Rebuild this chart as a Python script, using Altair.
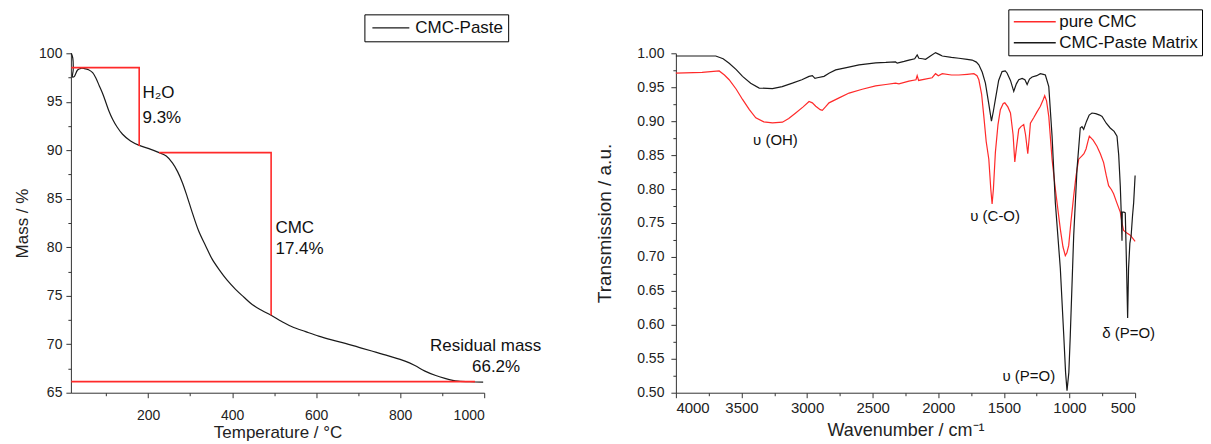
import altair as alt
import pandas as pd

FONT = "Liberation Sans"
RED = "#ff2a2a"
BLACK = "#1a1a1a"

# ---------------- TGA (left) ----------------
tga_temp = [17, 20.5, 21.5, 20, 24, 31.9, 40, 48, 58, 67.8, 76, 83.7, 92, 99.5, 107, 115.3, 126, 139,
            158, 178.6, 200, 226, 243, 257.7, 270, 281.5, 293, 305, 320, 336.9, 352, 368.5, 388, 408,
            428, 447.6, 470, 492.7, 518, 542.6, 575, 605.9, 637, 669.2, 700, 732.3, 772, 811.6, 835,
            859, 883, 906.5, 925, 938, 965, 997.5]
tga_mass = [100.0, 99.5, 98.3, 97.55, 97.6, 98.28, 98.45, 98.42, 98.3, 98.0, 97.4, 96.63, 95.8, 94.9,
            94.0, 93.2, 92.4, 91.65, 90.95, 90.5, 90.2, 89.76, 89.4, 88.7, 87.8, 86.66, 85.2, 83.57,
            81.7, 80.13, 78.8, 77.72, 76.6, 75.66, 74.85, 74.1, 73.5, 72.98, 72.35, 71.8, 71.3, 70.84,
            70.45, 70.09, 69.7, 69.3, 68.8, 68.26, 67.8, 67.23, 66.8, 66.48, 66.28, 66.2, 66.13, 66.1]

step_seg = ["h2o", "h2o", "h2o", "cmc", "cmc", "cmc", "res", "res"]
step_temp = [17, 178.6, 178.6, 226, 492.7, 492.7, 17, 978]
step_mass = [98.52, 98.52, 90.45, 89.76, 89.76, 72.98, 66.14, 66.14]

tga_lab_text = ["H₂O", "9.3%", "CMC", "17.4%", "Residual mass", "66.2%"]
tga_lab_x = [186.5, 186.5, 503, 503, 871, 971]
tga_lab_y = [95.95, 93.37, 82.02, 79.85, 69.81, 67.6]

tga_xmajor = [200, 400, 600, 800, 1000]
tga_xminor = [100, 300, 500, 700, 900]
tga_ymajor = [65, 70, 75, 80, 85, 90, 95, 100]
tga_yminor = [67.5, 72.5, 77.5, 82.5, 87.5, 92.5, 97.5]

# ---------------- FTIR (right) ----------------
paste_wn = [4000, 3696, 3640, 3594, 3540, 3492, 3430, 3365, 3264, 3190, 3112, 3040, 2985, 2960, 2940,
            2922, 2871, 2830, 2782, 2700, 2604, 2477, 2400, 2326, 2313, 2260, 2224, 2180, 2161, 2148,
            2120, 2097, 2060, 2021, 1990, 1970, 1900, 1843, 1780, 1742, 1710, 1691, 1665, 1641, 1615,
            1595, 1580, 1565, 1540, 1514, 1490, 1476, 1450, 1425, 1405, 1387, 1361, 1340, 1323, 1305,
            1285, 1250, 1222, 1200, 1184, 1158, 1133, 1108, 1070, 1044, 1030, 1019, 1005, 994, 968,
            943, 918, 905, 892, 870, 850, 829, 800, 770, 752, 720, 690, 660, 638, 625, 613, 605, 600,
            598, 585, 575, 565, 557, 550, 540, 530, 520, 511, 500]
paste_t = [0.996, 0.996, 0.992, 0.9854, 0.976, 0.966, 0.956, 0.9488, 0.948, 0.951, 0.956, 0.961, 0.966,
           0.967, 0.963, 0.964, 0.966, 0.971, 0.9756, 0.979, 0.983, 0.986, 0.9865, 0.9873, 0.9854,
           0.988, 0.990, 0.992, 0.9976, 0.9927, 0.992, 0.9912, 0.996, 1.001, 0.998, 0.996, 0.994,
           0.9927, 0.991, 0.990, 0.987, 0.983, 0.972, 0.956, 0.925, 0.900, 0.915, 0.932, 0.960, 0.973,
           0.974, 0.971, 0.960, 0.944, 0.955, 0.961, 0.963, 0.961, 0.954, 0.962, 0.965, 0.967, 0.970,
           0.969, 0.968, 0.951, 0.878, 0.780, 0.683, 0.585, 0.530, 0.503, 0.530, 0.585, 0.732, 0.829,
           0.890, 0.892, 0.888, 0.900, 0.909, 0.912, 0.911, 0.909, 0.907, 0.897, 0.890, 0.885, 0.878,
           0.850, 0.805, 0.760, 0.724, 0.766, 0.766, 0.765, 0.683, 0.610, 0.683, 0.720, 0.732, 0.760,
           0.780, 0.820]

cmc_wn = [4000, 3800, 3670, 3630, 3594, 3540, 3492, 3440, 3391, 3330, 3264, 3188, 3140, 3087, 3030,
          2985, 2960, 2934, 2900, 2884, 2860, 2833, 2760, 2680, 2580, 2478, 2400, 2326, 2300, 2224,
          2170, 2161, 2150, 2100, 2047, 2021, 2000, 1970, 1900, 1843, 1780, 1729, 1705, 1691, 1670,
          1653, 1635, 1615, 1600, 1590, 1580, 1565, 1545, 1527, 1505, 1493, 1470, 1450, 1430, 1417,
          1405, 1387, 1370, 1349, 1335, 1318, 1305, 1298, 1273, 1250, 1222, 1200, 1189, 1175, 1158,
          1133, 1108, 1070, 1050, 1032, 1020, 1006, 990, 968, 950, 930, 905, 890, 874, 860, 849, 820,
          791, 765, 740, 720, 702, 680, 664, 640, 613, 600, 588, 560, 537, 500]
cmc_t = [0.9707, 0.972, 0.974, 0.968, 0.961, 0.947, 0.932, 0.917, 0.905, 0.899, 0.8975, 0.8985, 0.904,
         0.912, 0.921, 0.929, 0.927, 0.922, 0.917, 0.916, 0.921, 0.927, 0.934, 0.9414, 0.947, 0.952,
         0.954, 0.956, 0.955, 0.959, 0.961, 0.967, 0.960, 0.962, 0.964, 0.970, 0.967, 0.970, 0.968,
         0.968, 0.969, 0.970, 0.967, 0.961, 0.940, 0.907, 0.870, 0.844, 0.800, 0.778, 0.800, 0.854,
         0.895, 0.917, 0.926, 0.927, 0.921, 0.912, 0.880, 0.840, 0.860, 0.888, 0.892, 0.895, 0.880,
         0.852, 0.880, 0.897, 0.905, 0.913, 0.922, 0.932, 0.9375, 0.930, 0.907, 0.844, 0.800, 0.741,
         0.715, 0.702, 0.706, 0.717, 0.750, 0.790, 0.820, 0.844, 0.849, 0.852, 0.859, 0.870, 0.878,
         0.872, 0.863, 0.852, 0.839, 0.820, 0.805, 0.799, 0.793, 0.780, 0.766, 0.750, 0.739, 0.735,
         0.732, 0.723]

ftir_series = ["pure CMC", "CMC-Paste Matrix"]
ftir_lab_text = ["υ (OH)", "υ (C-O)", "υ (P=O)", "δ (P=O)"]
ftir_lab_x = [3241, 1567, 1310, 549]
ftir_lab_y = [0.872, 0.761, 0.524, 0.588]

ftir_xmajor = [4000, 3500, 3000, 2500, 2000, 1500, 1000, 500]
ftir_xminor = [3750, 3250, 2750, 2250, 1750, 1250, 750]
ftir_ymajor = [0.50, 0.55, 0.60, 0.65, 0.70, 0.75, 0.80, 0.85, 0.90, 0.95, 1.00]
ftir_yminor = [0.525, 0.575, 0.625, 0.675, 0.725, 0.775, 0.825, 0.875, 0.925, 0.975]

# ---------------- tables ----------------
tga_df = pd.DataFrame({"T": tga_temp, "m": tga_mass, "i": range(len(tga_temp)),
                       "series": "CMC-Paste"})
step_df = pd.DataFrame({"T": step_temp, "m": step_mass, "seg": step_seg, "i": range(len(step_seg))})
tga_lab_df = pd.DataFrame({"T": tga_lab_x, "m": tga_lab_y, "txt": tga_lab_text})

ftir_df = pd.concat([
    pd.DataFrame({"wn": cmc_wn, "t": cmc_t, "series": ftir_series[0], "i": range(len(cmc_wn))}),
    pd.DataFrame({"wn": paste_wn, "t": paste_t, "series": ftir_series[1], "i": range(len(paste_wn))}),
])
ftir_lab_df = pd.DataFrame({"wn": ftir_lab_x, "t": ftir_lab_y, "txt": ftir_lab_text})

# ---------------- left chart ----------------
xs_l = alt.Scale(domain=[16, 1000], nice=False, zero=False)
ys_l = alt.Scale(domain=[65, 100], nice=False, zero=False)

tga_line = alt.Chart(tga_df).mark_line(strokeWidth=1.2, interpolate="catmull-rom").encode(
    x=alt.X("T:Q", scale=xs_l, axis=alt.Axis(values=tga_xmajor, format="d",
            title="Temperature / °C", tickSize=5, labelFontSize=14, labelPadding=11,
            titleFontSize=17, titlePadding=2)),
    y=alt.Y("m:Q", scale=ys_l, axis=alt.Axis(values=tga_ymajor, format="d", title="Mass / %",
            tickSize=5, labelFontSize=14, labelPadding=4, titleFontSize=17, titlePadding=7)),
    order="i:Q",
    color=alt.Color("series:N", scale=alt.Scale(domain=["CMC-Paste"], range=[BLACK]),
                    legend=alt.Legend(title=None, orient="none", legendX=294, legendY=-39,
                                      strokeColor="black", fillColor="white", padding=5,
                                      symbolType="M-3.7,0H3.7", symbolSize=100,
                                      symbolOffset=13, symbolStrokeWidth=1.3,
                                      labelFontSize=17, labelOffset=16, labelColor="#111")),
)

tga_steps = alt.Chart(step_df).mark_line(strokeWidth=1.6, color=RED).encode(
    x=alt.X("T:Q", scale=xs_l, axis=alt.Axis(values=tga_xminor, orient="bottom", labels=False,
            domain=False, tickSize=3, title=None)),
    y=alt.Y("m:Q", scale=ys_l, axis=alt.Axis(values=tga_yminor, orient="left", labels=False,
            domain=False, tickSize=3, title=None)),
    detail="seg:N",
    order="i:Q",
)

tga_text = alt.Chart(tga_lab_df).mark_text(align="left", baseline="middle", fontSize=17,
                                           color="#111").encode(
    x=alt.X("T:Q", scale=xs_l, axis=None),
    y=alt.Y("m:Q", scale=ys_l, axis=None),
    text="txt:N",
)

left = alt.layer(tga_line, tga_steps, tga_text).resolve_axis(x="independent", y="independent") \
    .properties(width=414, height=340)

# ---------------- right chart ----------------
xs_r = alt.Scale(domain=[500, 4000], reverse=True, nice=False, zero=False)
ys_r = alt.Scale(domain=[0.5, 1.0], nice=False, zero=False)

ftir_line = alt.Chart(ftir_df).mark_line(strokeWidth=1.2).encode(
    x=alt.X("wn:Q", scale=xs_r, axis=alt.Axis(values=ftir_xmajor, format="d",
            title="Wavenumber / cm⁻¹", tickSize=5, labelFontSize=15, labelPadding=3,
            titleFontSize=18, titlePadding=6)),
    y=alt.Y("t:Q", scale=ys_r, axis=alt.Axis(values=ftir_ymajor, format=".2f",
            title="Transmission / a.u.", tickSize=5, labelFontSize=14, labelPadding=7,
            titleFontSize=19, titlePadding=22)),
    order="i:Q",
    color=alt.Color("series:N", scale=alt.Scale(domain=ftir_series, range=[RED, BLACK]),
                    legend=alt.Legend(title=None, orient="none", legendX=333, legendY=-44,
                                      strokeColor="black", fillColor="white", padding=4,
                                      symbolType="M-4.2,0H4.2", symbolSize=100,
                                      symbolOffset=14, symbolStrokeWidth=1.5,
                                      labelFontSize=17, labelOffset=16, rowPadding=3,
                                      labelColor="#111")),
)

ftir_text = alt.Chart(ftir_lab_df).mark_text(align="center", baseline="middle", fontSize=15,
                                             color="#111").encode(
    x=alt.X("wn:Q", scale=xs_r, axis=alt.Axis(values=ftir_xminor, orient="bottom", labels=False,
            domain=False, tickSize=3, title=None)),
    y=alt.Y("t:Q", scale=ys_r, axis=alt.Axis(values=ftir_yminor, orient="left", labels=False,
            domain=False, tickSize=3, title=None)),
    text="txt:N",
)

right = alt.layer(ftir_line, ftir_text).resolve_axis(x="independent", y="independent") \
    .properties(width=460, height=340)

chart = alt.hconcat(left, right, spacing=192).resolve_scale(color="independent") \
    .properties(bounds="flush", padding={"left": 5, "top": 0, "right": 0, "bottom": 0},
                background="white") \
    .configure_view(stroke=None) \
    .configure_axis(grid=False, labelFont=FONT, titleFont=FONT, domainColor="#333",
                    tickColor="#333", labelColor="#222", titleColor="#222",
                    titleFontWeight="normal") \
    .configure_legend(labelFont=FONT) \
    .configure_text(font=FONT)

chart.save("out.html", embed_options={"renderer": "svg", "actions": False})
